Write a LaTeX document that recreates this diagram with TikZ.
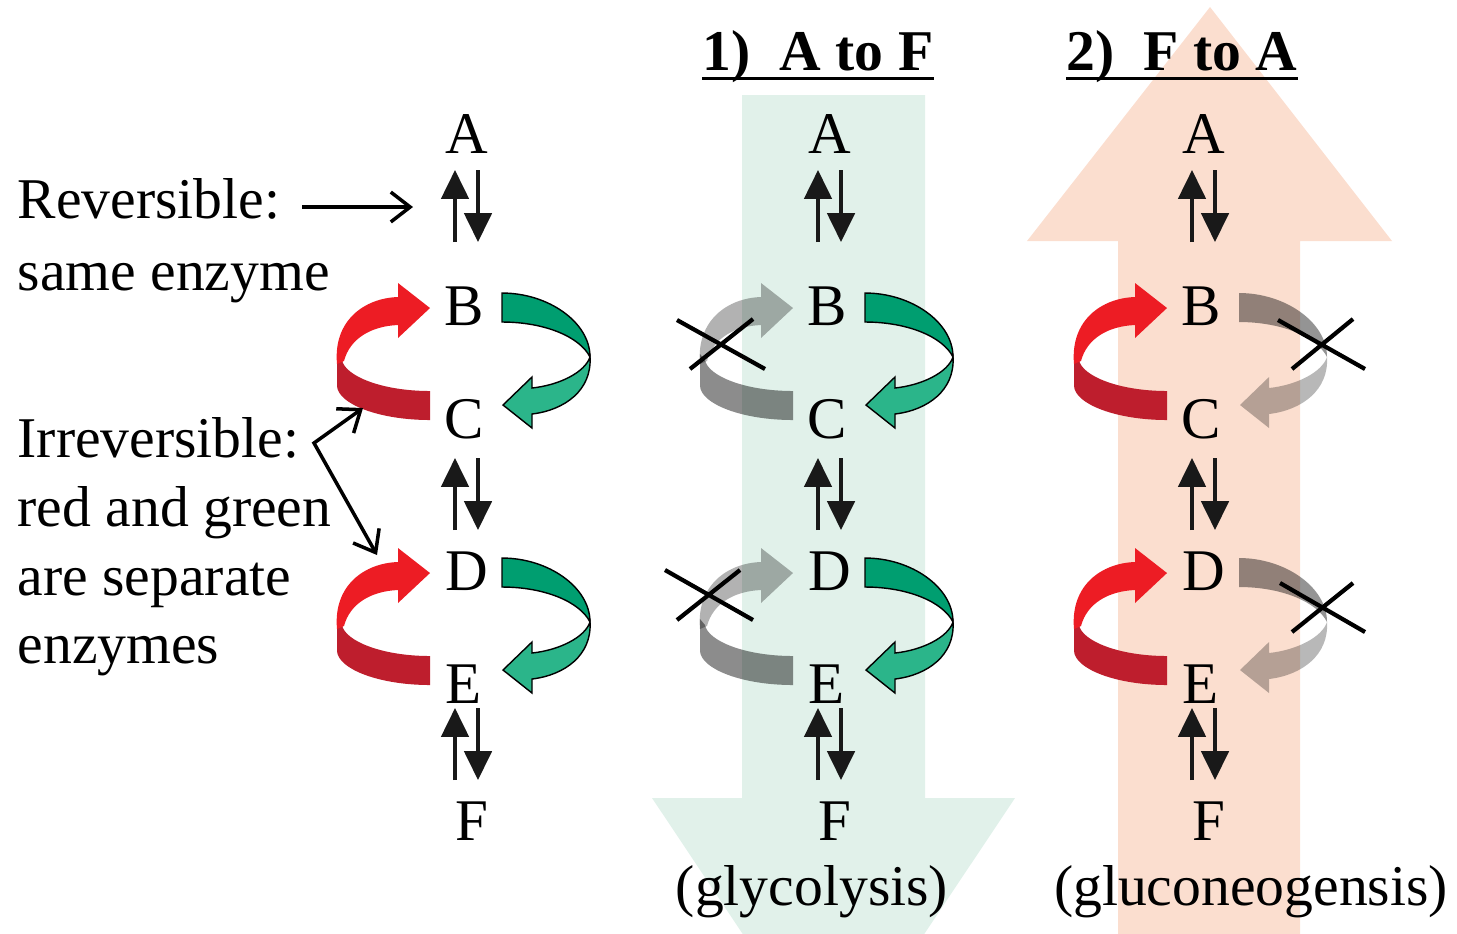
\documentclass[tikz,border=0pt]{standalone}
\usepackage{fontspec}
\setmainfont{Liberation Serif}
\usetikzlibrary{arrows.meta,calc}

\definecolor{mint}{RGB}{225,241,234}
\definecolor{peach}{RGB}{251,222,207}
\definecolor{redfront}{RGB}{237,28,36}
\definecolor{redback}{RGB}{190,30,45}
\definecolor{greenback}{RGB}{0,158,112}
\definecolor{greenfront}{RGB}{43,181,138}

\newcommand\bodysize{\fontsize{16.4}{19}\selectfont}
\newcommand\lettersize{\fontsize{16.8}{20}\selectfont}

\tikzset{
  txt/.style={font=\bodysize, inner sep=0pt, anchor=base west},
  lett/.style={font=\lettersize, inner sep=0pt, anchor=base},
  ttl/.style={font=\bodysize\bfseries, inner sep=0pt, anchor=base},
  ptr/.style={line width=1pt, line join=miter},
  barb/.tip={Straight Barb[length=5.5pt,width=8.5pt,line width=1pt]},
  updn/.style={line width=0.9pt, -{Triangle[length=8.2pt,width=7.8pt]}, draw=black!90},
  xline/.style={line width=1.2pt},
  % ribbon arrow turning from the lower metabolite back up to the upper one
  pics/leftloop/.style 2 args={code={
    \path[#1] (430,391) .. controls (382,391) and (345,376) .. (342,360)
      -- (337,354) -- (337,386) .. controls (338,404) and (379,420) .. (430,420) -- cycle;
    \path[#2] (337,364) .. controls (333,320) and (365,298) .. (398,297)
      -- (398,283) -- (430,308) -- (398,338) -- (398,325)
      .. controls (372,326) and (350,338) .. (344,361) -- cycle;
  }},
  % ribbon arrow turning from the upper metabolite down to the lower one
  pics/rightloop/.style 2 args={code={
    \path[#1] (502,293) .. controls (548,293) and (590,322) .. (590,357)
      .. controls (580,337) and (545,322) .. (502,322) -- cycle;
    \path[#2] (590,357) .. controls (592,390) and (565,410) .. (532,414)
      -- (532,428) -- (503,405) -- (532,377) -- (532,388)
      .. controls (560,385) and (585,372) .. (590,357) -- cycle;
  }},
}

\begin{document}
\begin{tikzpicture}[x=0.1mm,y=-0.1mm]
\useasboundingbox (0,0) rectangle (1457,933);

% broad direction arrows behind the two pathways
\begin{scope}
  \clip (0,0) rectangle (1457,933);
  \fill[mint] (742,95) -- (925,95) -- (925,798) -- (1015,798) -- (833.5,1070)
    -- (652,798) -- (742,798) -- cycle;
  \fill[peach] (1118,960) -- (1118,241) -- (1027,241) -- (1210,7) -- (1392,241)
    -- (1300,241) -- (1300,960) -- cycle;
\end{scope}

% headings
\node[ttl] (t1) at (818,70) {1)\ \ A to F};
\node[ttl] (t2) at (1182,70) {2)\ \ F to A};
\draw[line width=0.8pt] ([yshift=-2.3pt]t1.base west) -- ([yshift=-2.3pt]t1.base east);
\draw[line width=0.8pt] ([yshift=-2.3pt]t2.base west) -- ([yshift=-2.3pt]t2.base east);

% explanatory text
\node[txt] (rev)  at (17,218) {Reversible:};
\node[txt] (same) at (17,290) {same enzyme};
\node[txt] (irr)  at (17,457) {Irreversible:};
\node[txt] (rag)  at (17,526) {red and green};
\node[txt] (sep)  at (17,595) {are separate};
\node[txt] (enz)  at (17,663) {enzymes};

% metabolites in the three columns
\foreach \c/\dx in {1/0, 2/363, 3/737} {
  \node[lett] (A\c) at (467+\dx,153) {A};
  \node[lett] (B\c) at (464+\dx,325) {B};
  \node[lett] (C\c) at (464+\dx,438) {C};
  \node[lett] (D\c) at (467+\dx,590) {D};
  \node[lett] (E\c) at (464+\dx,703) {E};
  \node[lett] (F\c) at (472+\dx,840) {F};
}

% reversible steps: a pair of opposite arrows
\foreach \dx in {0,363,737} {
  \foreach \ya/\yb in {170/242, 458/530, 708/780} {
    \draw[updn] (455+\dx,\yb) -- (455+\dx,\ya);
    \draw[updn] (478+\dx,\ya) -- (478+\dx,\yb);
  }
}

% irreversible steps
\foreach \dy in {0,265} {
  % left column: both enzymes active
  \pic at (0,\dy) {leftloop={fill=redback}{fill=redfront}};
  \pic at (0,\dy) {rightloop={fill=greenback,draw=black,line width=0.4pt}{fill=greenfront,draw=black,line width=0.4pt}};
  % glycolysis: red enzyme switched off
  \pic at (363,\dy) {leftloop={fill=black,fill opacity=0.45}{fill=black,fill opacity=0.3}};
  \pic at (363,\dy) {rightloop={fill=greenback,draw=black,line width=0.4pt}{fill=greenfront,draw=black,line width=0.4pt}};
  % gluconeogenesis: green enzyme switched off
  \pic at (737,\dy) {leftloop={fill=redback}{fill=redfront}};
  \pic at (737,\dy) {rightloop={fill=black,fill opacity=0.42}{fill=black,fill opacity=0.28}};
}

% crossed-out enzymes
\draw[xline] (677,320) -- (765,369) (690,369) -- (753,319);
\draw[xline] (665,570) -- (753,620) (677,620) -- (740,570);
\draw[xline] (1278,320) -- (1365,369) (1292,369) -- (1353,319);
\draw[xline] (1280,583) -- (1365,632) (1292,632) -- (1353,583);

% pointers from the explanatory text
\coordinate (revtail) at (302,207);
\coordinate (revtip)  at (413,207);
\coordinate (irrknee) at (314,443);
\coordinate (irrtipC) at (363,408);
\coordinate (irrtipD) at (377,555);
\draw[ptr, -barb] (revtail) -- (revtip);
\draw[ptr, barb-barb] (irrtipC) -- (irrknee) -- (irrtipD);

% pathway names
\node[lett, font=\bodysize] (gly) at (812,905) {(glycolysis)};
\node[lett, font=\bodysize] (glu) at (1251,905) {(gluconeogensis)};
\end{tikzpicture}
\end{document}
